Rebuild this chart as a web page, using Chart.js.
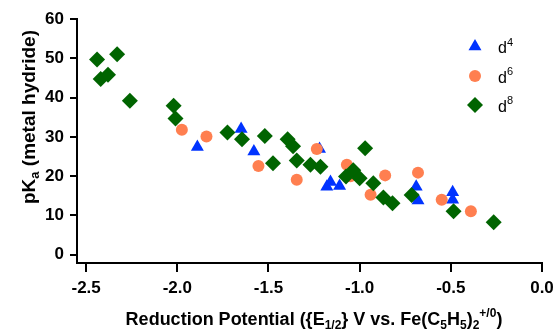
<!DOCTYPE html>
<html>
<head>
<meta charset="utf-8">
<script src="https://cdn.jsdelivr.net/npm/chart.js@4.4.1/dist/chart.umd.min.js"></script>
<style>
  html, body { margin: 0; padding: 0; background: #fff; }
</style>
</head>
<body>
<canvas id="myChart" width="560" height="330"></canvas>
<script>
// series: reduction potential (V) and pKa pairs
const d4X = [-1.89, -1.65, -1.58, -1.22, -1.18, -1.16, -1.11, -0.69, -0.68, -0.49, -0.49];
const d4Y = [27.4, 32.0, 26.3, 26.9, 17.3, 18.5, 17.5, 17.3, 13.8, 15.9, 14.0];

const d6X = [-1.975, -1.84, -1.555, -1.345, -1.235, -1.07, -1.05, -0.94, -0.86, -0.68, -0.55, -0.39];
const d6Y = [31.8, 30.1, 22.6, 19.1, 26.9, 22.9, 20.0, 15.3, 20.2, 20.9, 14.0, 11.1];

const d8X = [-2.44, -2.33, -2.42, -2.38, -2.26, -2.02, -2.01, -1.725, -1.645, -1.52, -1.475, -1.395, -1.365,
             -1.345, -1.27, -1.215, -0.97, -1.075, -1.035, -1.0, -0.925, -0.87, -0.82, -0.715, -0.485, -0.265];
const d8Y = [49.7, 51.0, 44.7, 45.8, 39.2, 37.9, 34.7, 31.1, 29.4, 30.2, 23.3, 29.4, 27.6,
             24.0, 22.9, 22.4, 27.1, 19.9, 21.5, 19.5, 18.2, 14.6, 13.1, 15.2, 11.1, 8.3];

const seriesNames = ['d4', 'd6', 'd8'];
const xTicks = [-2.5, -2.0, -1.5, -1.0, -0.5, 0.0];
const yTicks = [0, 10, 20, 30, 40, 50, 60];

const pts = (xs, ys) => xs.map((x, i) => ({ x: x, y: ys[i] }));

const FONT = "'Liberation Sans', Arial, sans-serif";

// draws text with sub/superscript pieces
function richText(ctx, parts, size, weight, x, y, align) {
  const small = Math.round(size * 0.68);
  const fontOf = m => weight + ' ' + (m === 'n' ? size : small) + 'px ' + FONT;
  let w = 0;
  parts.forEach(p => { ctx.font = fontOf(p[1]); w += ctx.measureText(p[0]).width; });
  let cx = align === 'center' ? x - w / 2 : x;
  ctx.textAlign = 'left';
  ctx.textBaseline = 'alphabetic';
  parts.forEach(p => {
    ctx.font = fontOf(p[1]);
    let dy = 0;
    if (p[1] === 'sub') dy = size * 0.22;
    if (p[1] === 'sup') dy = -size * 0.45;
    ctx.fillText(p[0], cx, y + dy);
    cx += ctx.measureText(p[0]).width;
  });
}

const xTitle = [['Reduction Potential ({E', 'n'], ['1/2', 'sub'], ['} V vs. Fe(C', 'n'], ['5', 'sub'],
                ['H', 'n'], ['5', 'sub'], [')', 'n'], ['2', 'sub'], ['+/0', 'sup'], [')', 'n']];
const yTitle = [['pK', 'n'], ['a', 'sub'], [' (metal hydride)', 'n']];

const decor = {
  id: 'decor',
  afterDraw(chart) {
    const ctx = chart.ctx;
    ctx.save();
    ctx.fillStyle = '#000';
    richText(ctx, xTitle, 18, 'bold', 314, 325, 'center');
    ctx.translate(35, 117);
    ctx.rotate(-Math.PI / 2);
    richText(ctx, yTitle, 19, 'bold', 0, 0, 'center');
    ctx.restore();

    // legend inside the plot, top right
    ctx.save();
    const rows = [46.5, 76, 105];
    chart.data.datasets.forEach((ds, i) => {
      ctx.fillStyle = ds.backgroundColor;
      ctx.strokeStyle = ds.backgroundColor;
      ctx.lineWidth = 0;
      Chart.helpers.drawPoint(ctx, { pointStyle: ds.pointStyle, radius: ds.pointRadius, borderWidth: 0, rotation: 0 }, 475, rows[i]);
      ctx.fillStyle = '#000';
      richText(ctx, [[ds.label[0], 'n'], [ds.label.slice(1), 'sup']], 16, 'normal', 498, rows[i] + 6.5, 'left');
    });
    ctx.restore();
  }
};

const ctx = document.getElementById('myChart');

const data = {
  datasets: [
    {
      label: seriesNames[0],
      data: pts(d4X, d4Y),
      pointStyle: 'triangle',
      pointRadius: 7.5,
      backgroundColor: '#0033FF',
      borderColor: '#0033FF',
      borderWidth: 0,
      order: 2
    },
    {
      label: seriesNames[1],
      data: pts(d6X, d6Y),
      pointStyle: 'circle',
      pointRadius: 6,
      backgroundColor: '#FF7F50',
      borderColor: '#FF7F50',
      borderWidth: 0,
      order: 1
    },
    {
      label: seriesNames[2],
      data: pts(d8X, d8Y),
      pointStyle: 'rectRot',
      pointRadius: 8,
      backgroundColor: '#006400',
      borderColor: '#006400',
      borderWidth: 0,
      order: 0
    }
  ]
};

const tickFont = { family: FONT, size: 17, weight: 'bold' };

new Chart(ctx, {
  type: 'scatter',
  data: data,
  options: {
    responsive: false,
    animation: false,
    layout: { padding: { left: 0, right: 18, top: 19, bottom: 0 } },
    plugins: { legend: { display: false }, tooltip: { enabled: false } },
    scales: {
      x: {
        type: 'linear',
        min: -2.55,
        max: 0,
        afterFit: s => { s.height = 67; },
        afterBuildTicks: s => { s.ticks = xTicks.map(v => ({ value: v })); },
        border: { color: '#000', width: 2 },
        grid: { drawOnChartArea: false, color: '#000', lineWidth: 2, tickLength: 9 },
        ticks: { color: '#000', font: tickFont, padding: 6, maxRotation: 0, callback: v => v.toFixed(1) }
      },
      y: {
        type: 'linear',
        min: -2.1,
        max: 60,
        afterFit: s => { s.width = 77; },
        afterBuildTicks: s => { s.ticks = yTicks.map(v => ({ value: v })); },
        border: { color: '#000', width: 2 },
        grid: { drawOnChartArea: false, color: '#000', lineWidth: 2, tickLength: 7 },
        ticks: { color: '#000', font: tickFont, padding: 6 }
      }
    }
  },
  plugins: [decor]
});
</script>
</body>
</html>
